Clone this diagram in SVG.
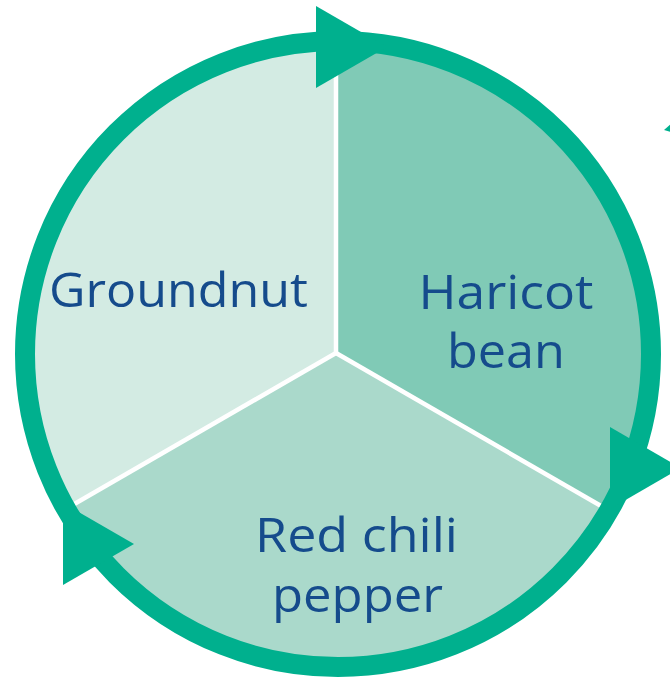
<svg xmlns="http://www.w3.org/2000/svg" width="670" height="679" viewBox="0 0 670 679">
<style>
.lbl{font-family:"Open Sans","Liberation Sans",sans-serif;font-size:47.5px;fill:#154b8c;text-anchor:middle}
.div{stroke:#ffffff;stroke-width:4.5;fill:none}
.ring{fill:none;stroke:#00b08e;stroke-width:20}
.arr{fill:#00b08e}
</style>
<rect width="670" height="679" fill="#ffffff"/>
<g id="groundnut">
<path d="M336,353 L336,43 A310,310 0 0 0 67.5,508 Z" fill="#d3ebe3"/>
<text class="lbl" x="178.5" y="307" textLength="259" lengthAdjust="spacingAndGlyphs">Groundnut</text>
</g>
<g id="haricot-bean">
<path d="M336,353 L336,43 A310,310 0 0 1 604.5,508 Z" fill="#80cab6"/>
<text class="lbl" x="506" y="309" textLength="175" lengthAdjust="spacingAndGlyphs">Haricot</text>
<text class="lbl" x="506" y="368" textLength="118" lengthAdjust="spacingAndGlyphs">bean</text>
</g>
<g id="red-chili-pepper">
<path d="M336,353 L604.5,508 A310,310 0 0 1 67.5,508 Z" fill="#aad9cb"/>
<text class="lbl" x="356.5" y="552" textLength="203" lengthAdjust="spacingAndGlyphs">Red chili</text>
<text class="lbl" x="357.5" y="612" textLength="171" lengthAdjust="spacingAndGlyphs">pepper</text>
</g>
<g id="dividers">
<line class="div" x1="336" y1="353" x2="336" y2="40"/>
<line class="div" x1="336" y1="353" x2="64" y2="510"/>
<line class="div" x1="336" y1="353" x2="608" y2="510"/>
</g>
<g id="connectors">
<circle class="ring" cx="338" cy="354" r="313"/>
<polygon class="arr" points="316,6 316,88 387,47"/>
<polygon class="arr" points="610,427 610,509 681,468"/>
<polygon class="arr" points="63,503 63,585 134,544"/>
<polygon class="arr" points="664,130 671,124 671,132"/>
</g>
</svg>
